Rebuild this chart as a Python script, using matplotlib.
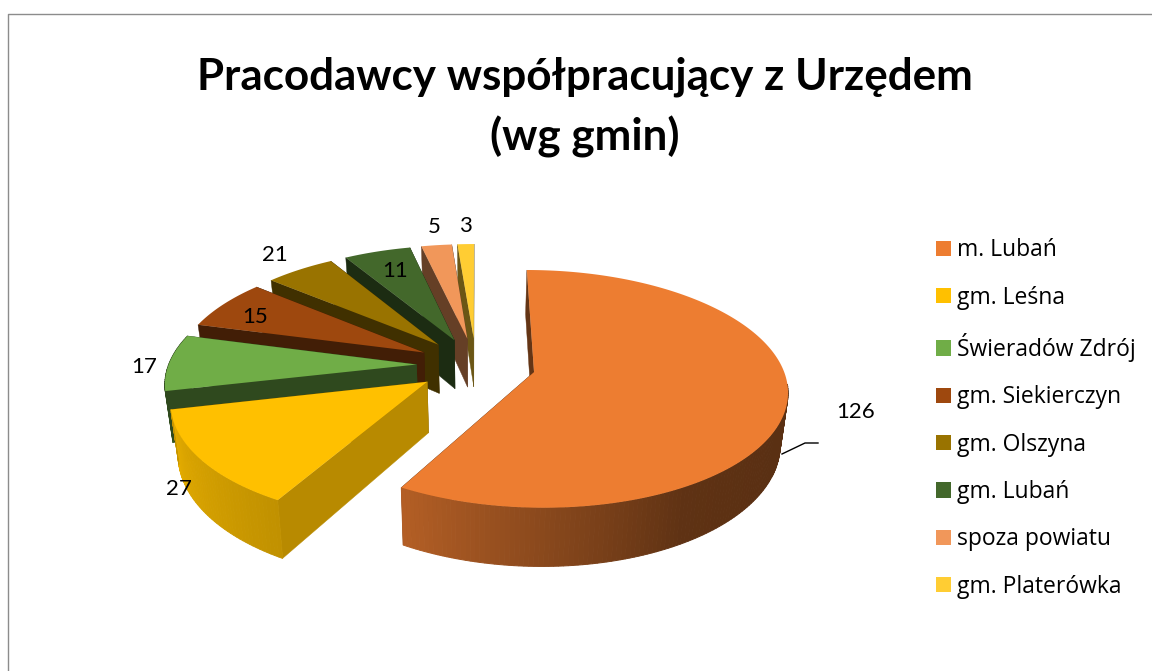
#!/usr/bin/env python3
"""Exploded 3D pie: employers working with the office, by commune."""

import matplotlib
matplotlib.use("Agg")
import matplotlib.pyplot as plt
from matplotlib.patches import Patch
import numpy as np

TITLE = "Pracodawcy współpracujący z Urzędem\n(wg gmin)"
labels = ["m. Lubań", "gm. Leśna", "Świeradów Zdrój", "gm. Siekierczyn",
          "gm. Olszyna", "gm. Lubań", "spoza powiatu", "gm. Platerówka"]
values = [126, 27, 17, 15, 21, 11, 5, 3]
colors = ["#ED7D31", "#FFC000", "#70AD47", "#9E480E",
          "#997300", "#43682B", "#F1975A", "#FFCD33"]
# where the value labels sit, in pixels
label_pos = [(856, 412), (179, 489), (144, 367), (255, 317),
             (275, 255), (395, 271), (434, 227), (465, 226)]

# fake 3D view, all in pixels
VX, Y0 = 476, 365     # view centre
RX, RY = 248, 114.5   # disc radii
K = 0.14              # perspective strength
DEPTH = 50            # pie thickness
FLOOR = 0.975         # bottom face is a bit narrower
EXPLODE = 0.24
# the 3D view bends the angles: degrees added at each slice edge
edge_bend = [0, 8, 12.2, 13, 14, -0.6, 0, 0.3, 0]

plt.rcParams["font.family"] = ["Lato", "DejaVu Sans"]


def project(x, y, floor=False):
    s = 1 / (1 + K * y)
    px = VX + x * RX * s
    py = Y0 - y * RY * s
    if floor:
        px = VX + (px - VX) * FLOOR
        py = py + DEPTH * s
    return px, py


def shade(color, f):
    return tuple(c * f for c in matplotlib.colors.to_rgb(color))


def wall_light(deg):
    return np.interp(deg, [120, 150, 180, 208, 256, 258],
                     [0.38, 0.40, 0.58, 0.75, 0.90, 0.42])


def draw_slice(ax, a0, a1, color):
    mid = np.radians((a0 + a1) / 2)
    ox, oy = EXPLODE * np.sin(mid), EXPLODE * np.cos(mid)
    th = np.radians(np.linspace(a0, a1, max(int(a1 - a0) + 2, 3)))
    xs, ys = ox + np.sin(th), oy + np.cos(th)

    # cut faces first
    normal_x = np.sin(np.radians(a0 - 90))
    for k, f in [(-1, 0.42), (0, 0.72 if normal_x > 0.5 else 0.42)]:
        pts = [project(ox, oy), project(xs[k], ys[k]),
               project(xs[k], ys[k], True), project(ox, oy, True)]
        ax.fill(*zip(*pts), color=shade(color, f), lw=0.3, zorder=2)

    # outer wall, one thin strip per step so that the light can change
    for i in range(len(th) - 1):
        deg = np.degrees((th[i] + th[i + 1]) / 2)
        if deg < 96 or deg > 285:
            continue
        pts = [project(xs[i], ys[i]), project(xs[i + 1], ys[i + 1]),
               project(xs[i + 1], ys[i + 1], True), project(xs[i], ys[i], True)]
        ax.fill(*zip(*pts), color=shade(color, wall_light(deg)), lw=0.7, zorder=2)

    # top face
    top = [project(ox, oy)] + [project(x, y) for x, y in zip(xs, ys)]
    ax.fill(*zip(*top), color=color, lw=0, zorder=2)


fig = plt.figure(figsize=(11.52, 6.71), dpi=100)
ax = fig.add_axes([0, 0, 1, 1])
ax.set_xlim(0, 1152)
ax.set_ylim(671, 0)
ax.axis("off")

# chart frame, cut off on the right and at the bottom
ax.plot([7.5, 7.5, 1152], [671, 13.5, 13.5], color="#8c8c8c", lw=1.0, zorder=1)

edges = np.cumsum([0] + values) / sum(values) * 360 + np.array(edge_bend)
for i in reversed(range(len(values))):
    draw_slice(ax, edges[i], edges[i + 1], colors[i])

ax.plot([782, 805, 818], [454, 443, 443], color="black", lw=1.0, zorder=3)

for v, (x, y) in zip(values, label_pos):
    ax.text(x, y, str(v), fontsize=16, ha="center", va="center", color="black", zorder=4)

ax.text(585, 107, TITLE, fontsize=31.7, fontweight="bold", ha="center", va="center",
        linespacing=1.53, color="black")

handles = [Patch(facecolor=c, label=n) for c, n in zip(colors, labels)]
ax.legend(handles=handles, loc="upper left", bbox_to_anchor=(936 / 1152, 1 - 238.5 / 671),
          frameon=False, handlelength=0.655, handleheight=0.655,
          handletextpad=0.26, labelspacing=1.017, borderpad=0, borderaxespad=0,
          prop={"family": "Open Sans", "size": 16.5})

fig.savefig("out.png", dpi=100)
